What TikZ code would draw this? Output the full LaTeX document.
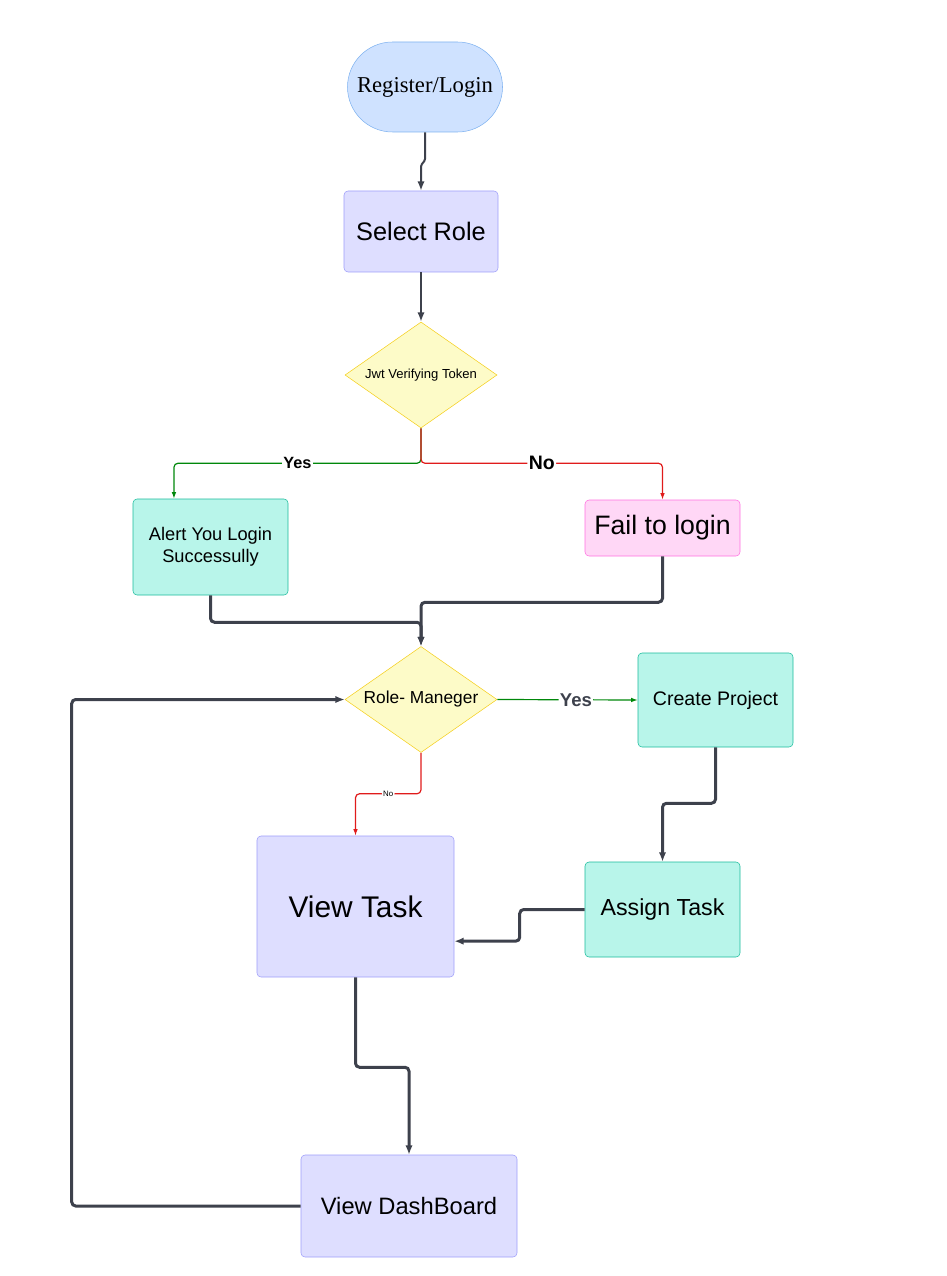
\documentclass[tikz,border=0pt]{standalone}
\usepackage{fontspec}
\setmainfont{Liberation Sans}
\newfontfamily\policeserif{Liberation Serif}
\usetikzlibrary{shapes.geometric,arrows.meta}
\definecolor{bleufond}{HTML}{CFE2FF}
\definecolor{bleutrait}{HTML}{7FB2F0}
\definecolor{violetfond}{HTML}{DEDEFF}
\definecolor{violettrait}{HTML}{9D9DFA}
\definecolor{jaunefond}{HTML}{FDFBC8}
\definecolor{jaunetrait}{HTML}{F5CF1E}
\definecolor{vertfond}{HTML}{B8F5EA}
\definecolor{verttrait}{HTML}{1ABC9C}
\definecolor{rosefond}{HTML}{FFD7F6}
\definecolor{rosetrait}{HTML}{FF70E0}
\definecolor{gris}{HTML}{3D414C}
\definecolor{vert}{HTML}{00870A}
\definecolor{rouge}{HTML}{E01B1B}
\begin{document}
\begin{tikzpicture}[x=0.75pt,y=-0.75pt]
            \tikzstyle{boite}=[draw,rounded corners=3pt,align=center,inner sep=2pt,text=black]
            \tikzstyle{violet}=[boite,fill=violetfond,draw=violettrait]
            \tikzstyle{turquoise}=[boite,fill=vertfond,draw=verttrait]
            \tikzstyle{losange}=[diamond,draw=jaunetrait,fill=jaunefond,aspect=1.43,inner sep=0pt,minimum width=114pt,minimum height=79.5pt]
            \tikzstyle{fleche}=[gris,line width=2.25pt,rounded corners=3pt,-{Latex[length=7pt,width=5.5pt]}]
            \tikzstyle{mince}=[line width=0.9pt,rounded corners=3pt,-{Latex[length=5pt,width=3.5pt]}]
            \tikzstyle{etiquette}=[fill=white,inner sep=1pt,font=\bfseries]
            \useasboundingbox (0,0) rectangle (946,1276);
            \node[draw=bleutrait,fill=bleufond,rounded corners=33.75pt,minimum width=116.25pt,minimum height=67.5pt,font=\policeserif\fontsize{17}{20}\selectfont] (login) at (425,87) {Register/Login};
            \node[violet,minimum width=115.5pt,minimum height=60.75pt,font=\fontsize{19}{23}\selectfont] (role) at (421,231.5) {Select Role};
            \node[losange,font=\fontsize{9.8}{12}\selectfont] (jwt) at (421,375) {Jwt Verifying Token};
            \node[turquoise,minimum width=116.25pt,minimum height=72pt,font=\fontsize{13.7}{16.5}\selectfont] (alerte) at (210.5,547) {Alert You Login\\Successully};
            \node[boite,fill=rosefond,draw=rosetrait,minimum width=116.25pt,minimum height=42pt,font=\fontsize{20}{24}\selectfont] (echec) at (662.5,528) {Fail to login};
            \node[losange,font=\fontsize{13}{16}\selectfont] (manager) at (421,699.5) {Role- Maneger};
            \node[turquoise,minimum width=116.25pt,minimum height=70.5pt,font=\fontsize{14.7}{18}\selectfont] (projet) at (715.5,700) {Create Project};
            \node[violet,minimum width=147.75pt,minimum height=105.75pt,font=\fontsize{22.4}{27}\selectfont] (vue) at (355.5,906.5) {View Task};
            \node[turquoise,minimum width=116.25pt,minimum height=71.25pt,font=\fontsize{17.4}{21}\selectfont] (tache) at (662.5,909.5) {Assign Task};
            \node[violet,minimum width=162pt,minimum height=76.5pt,font=\fontsize{17.8}{21}\selectfont] (tableau) at (409,1206) {View DashBoard};
            \draw[fleche,line width=1.5pt,rounded corners=1pt] (login.south) -- ++(0,28) -- ++(-4,5) -- (role.north);
            \draw[fleche,line width=1.5pt] (role.south) -- (jwt.north);
            \draw[mince,vert] (jwt.south) -- ++(0,35) -| node[etiquette,pos=0.25,text=black,font=\bfseries\fontsize{12.2}{14}\selectfont] {Yes} ([xshift=-27.4pt]alerte.north);
            \draw[mince,rouge] (jwt.south) -- ++(0,35) -| node[etiquette,pos=0.25,text=black,font=\bfseries\fontsize{14.6}{17}\selectfont] {No} (echec.north);
            \draw[fleche] (alerte.south) -- ++(0,27) -| (manager.north);
            \draw[fleche] (echec.south) -- ++(0,46) -| (manager.north);
            \draw[mince,vert] (manager.east) -- node[etiquette,pos=0.56,text=gris,font=\bfseries\fontsize{13.9}{16}\selectfont] {Yes} (projet.west);
            \draw[mince,rouge] (manager.south) -- ++(0,41) -| node[etiquette,pos=0.25,text=black,font=\fontsize{5.9}{7}\selectfont] {No} (vue.north);
            \draw[fleche] (projet.south) -- ++(0,56) -| (tache.north);
            \draw[fleche] (tache.west) -- ++(-65,0) |- ([yshift=-26pt]vue.east);
            \draw[fleche] (vue.south) -- ++(0,90) -| (tableau.north);
            \draw[fleche] (tableau.west) -- ++(-229,0) |- (manager.west);
        \end{tikzpicture}
\end{document}
